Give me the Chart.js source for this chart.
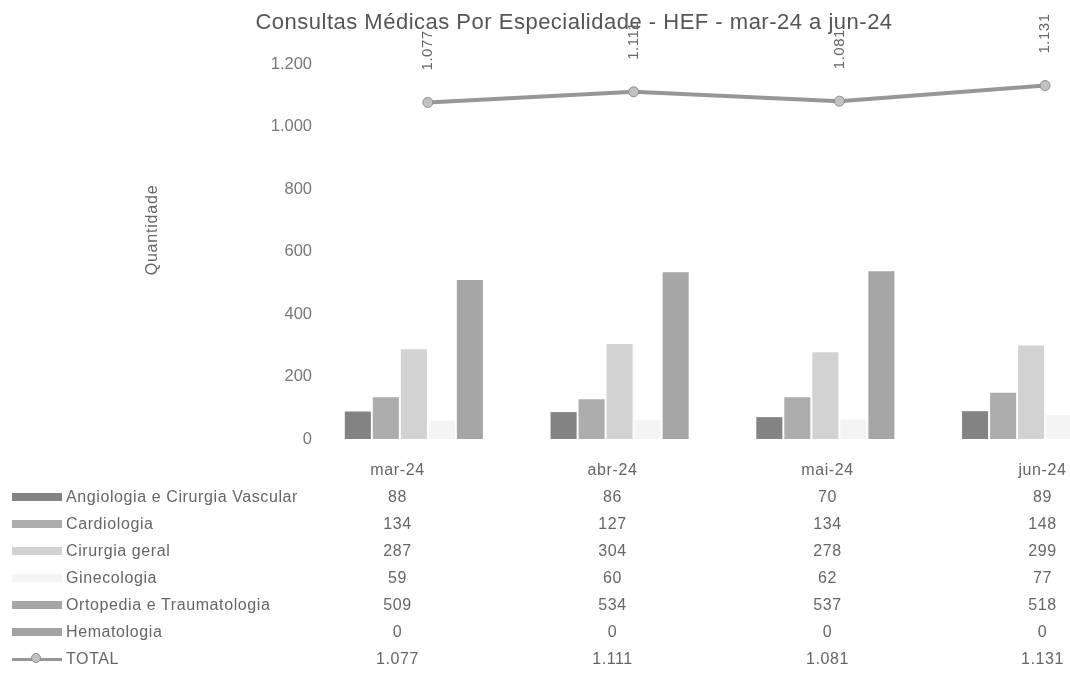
<!DOCTYPE html>
<html>
<head>
<meta charset="utf-8">
<title>Consultas Médicas Por Especialidade</title>
<script src="https://cdn.jsdelivr.net/npm/chart.js@4.4.1/dist/chart.umd.min.js"></script>
<style>
  html, body { margin: 0; padding: 0; background: #fff; overflow: hidden; }
  #wrap { position: relative; width: 1160px; height: 675px; }
  #chart { position: absolute; left: 0; top: 0; }
  #dataTable {
    position: absolute; left: 0; top: 456px; width: 1150px;
    table-layout: fixed; border-collapse: collapse;
    font-family: "Liberation Sans", Arial, sans-serif;
    font-size: 16px; color: #666; letter-spacing: 0.6px;
  }
  #dataTable td { height: 27px; padding: 0; white-space: nowrap; overflow: visible; }
  #dataTable td.name { width: 290px; }
  #dataTable td.val { width: 215px; text-align: center; }
  .swatch { display: inline-block; position: relative; width: 50px; height: 8px; margin: 0 4px 0 12px; vertical-align: middle; }
  .swatch .ln { position: absolute; left: 0; right: 0; top: 3px; height: 3px; }
  .swatch .pt { position: absolute; left: 19px; top: -2px; width: 10px; height: 10px; border-radius: 50%; box-sizing: border-box; border: 1px solid; }
</style>
</head>
<body>
<div id="wrap">
  <canvas id="chart" width="1160" height="675"></canvas>
  <table id="dataTable"></table>
</div>
<script>
// categories
const months = ["mar-24", "abr-24", "mai-24", "jun-24"];

// series values
const angiologia = [88, 86, 70, 89];
const cardiologia = [134, 127, 134, 148];
const cirurgiaGeral = [287, 304, 278, 299];
const ginecologia = [59, 60, 62, 77];
const ortopedia = [509, 534, 537, 518];
const hematologia = [0, 0, 0, 0];
const total = [1077, 1111, 1081, 1131];

const seriesNames = [
  "Angiologia e Cirurgia Vascular",
  "Cardiologia",
  "Cirurgia geral",
  "Ginecologia",
  "Ortopedia e Traumatologia",
  "Hematologia",
];
const totalName = "TOTAL";

// y axis
const yMin = 0;
const yMax = 1200;
const yStep = 200;

const title = "Consultas Médicas Por Especialidade - HEF - mar-24 a jun-24";
const yTitle = "Quantidade";

// styles
const barColors = ["#838383", "#adadad", "#d2d2d2", "#f4f4f4", "#a6a6a6", "#a3a3a3"];
const lineColor = "#979797";
const pointFill = "#c2c2c2";
const pointBorder = "#8c8c8c";

const FONT = '"Liberation Sans", Arial, sans-serif';
Chart.defaults.font.family = FONT;

function fmt(v) {
  return String(v).replace(/\B(?=(\d{3})+(?!\d))/g, ".");
}

const barSeries = [angiologia, cardiologia, cirurgiaGeral, ginecologia, ortopedia, hematologia];

const datasets = barSeries.map((values, i) => ({
  type: "bar",
  label: seriesNames[i],
  data: values,
  backgroundColor: barColors[i],
  borderWidth: 0,
  order: 1,
}));

datasets.push({
  type: "line",
  label: totalName,
  data: total,
  borderColor: lineColor,
  borderWidth: 4,
  pointRadius: 5,
  pointBackgroundColor: pointFill,
  pointBorderColor: pointBorder,
  pointBorderWidth: 1,
  tension: 0,
  order: 0,
});

// texts drawn on the canvas: title, axis title, rotated labels on the TOTAL line
const textPlugin = {
  id: "texts",
  afterDraw(chart) {
    const ctx = chart.ctx;
    ctx.save();
    ctx.fillStyle = "#555";
    ctx.font = "22px " + FONT;
    ctx.letterSpacing = "0.5px";
    ctx.textAlign = "center";
    ctx.textBaseline = "middle";
    ctx.fillText(title, 574, 23);

    ctx.fillStyle = "#666";
    ctx.font = "16px " + FONT;
    ctx.letterSpacing = "0.8px";
    ctx.save();
    ctx.translate(153, 230);
    ctx.rotate(-Math.PI / 2);
    ctx.fillText(yTitle, 0, 0);
    ctx.restore();

    const meta = chart.getDatasetMeta(chart.data.datasets.length - 1);
    ctx.font = "15px " + FONT;
    ctx.letterSpacing = "0.5px";
    ctx.textAlign = "left";
    meta.data.forEach((pt, i) => {
      ctx.save();
      ctx.translate(pt.x, pt.y - 32);
      ctx.rotate(-Math.PI / 2);
      ctx.fillText(fmt(total[i]), 0, 0);
      ctx.restore();
    });
    ctx.restore();
  },
};

new Chart(document.getElementById("chart"), {
  type: "bar",
  data: { labels: months, datasets: datasets },
  options: {
    responsive: false,
    animation: false,
    layout: { padding: { top: 64, bottom: 236, right: 12, left: 0 } },
    datasets: { bar: { categoryPercentage: 0.817, barPercentage: 0.93 } },
    plugins: {
      legend: { display: false },
      title: { display: false },
      tooltip: { enabled: false },
    },
    scales: {
      x: { display: false },
      y: {
        min: yMin,
        max: yMax,
        grid: { display: false, drawTicks: false },
        border: { display: false },
        ticks: {
          stepSize: yStep,
          padding: 13,
          color: "#777",
          font: { size: 16.5 },
          callback: (v) => fmt(v),
        },
        afterFit: (s) => { s.width = 325; },
      },
    },
  },
  plugins: [textPlugin],
});

// data table under the chart
function buildTable() {
  const table = document.getElementById("dataTable");
  let html = "<colgroup><col style='width:290px'>" + months.map(() => "<col style='width:215px'>").join("") + "</colgroup>";
  html += "<tr><td class='name'></td>";
  months.forEach((m) => { html += `<td class='val'>${m}</td>`; });
  html += "</tr>";
  barSeries.forEach((values, i) => {
    html += `<tr><td class='name'><span class='swatch' style='background:${barColors[i]}'></span>${seriesNames[i]}</td>`;
    values.forEach((v) => { html += `<td class='val'>${fmt(v)}</td>`; });
    html += "</tr>";
  });
  html += `<tr><td class='name'><span class='swatch'><span class='ln' style='background:${lineColor}'></span>` +
    `<span class='pt' style='background:${pointFill};border-color:${pointBorder}'></span></span>${totalName}</td>`;
  total.forEach((v) => { html += `<td class='val'>${fmt(v)}</td>`; });
  html += "</tr>";
  table.innerHTML = html;
}
buildTable();
</script>
</body>
</html>
